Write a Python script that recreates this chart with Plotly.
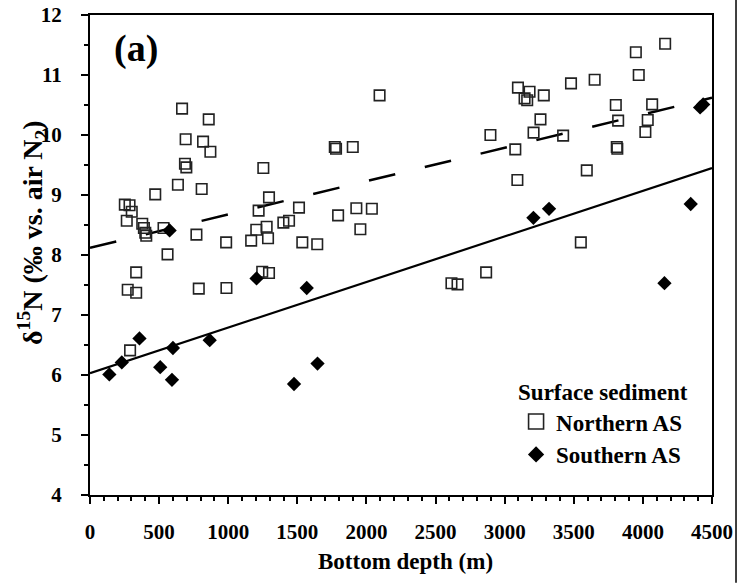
import plotly.graph_objects as go

# Northern AS (open squares)
north_depth = [666, 859, 692, 818, 871, 687, 697, 1254, 636, 472, 808, 1295, 252, 286, 302,
               1220, 1399, 1440, 266, 378, 390, 400, 407, 532, 770, 1203, 1278, 1288, 1166,
               985, 561, 334, 273, 334, 787, 987, 1246, 1295, 290,
               1512, 1536, 1644, 1771, 1780, 1795, 1901, 1927, 2039, 1956, 2095, 2615, 2659,
               2866, 2897, 3077, 3092, 3096, 3180, 3144, 3163, 3283, 3259, 3209,
               4161, 3949, 3970, 3480, 3651, 3804, 4067, 3821, 3423, 4035, 4018, 3811, 3815,
               3594, 3551]
north_d15n = [10.44, 10.26, 9.93, 9.89, 9.72, 9.52, 9.46, 9.45, 9.17, 9.01, 9.10, 8.96, 8.84,
              8.83, 8.72, 8.74, 8.54, 8.57, 8.57, 8.52, 8.45, 8.37, 8.32, 8.45, 8.34, 8.42,
              8.47, 8.28, 8.24, 8.21, 8.01, 7.71, 7.42, 7.37, 7.44, 7.45, 7.72, 7.70, 6.41,
              8.79, 8.21, 8.18, 9.80, 9.77, 8.66, 9.80, 8.78, 8.77, 8.43, 10.66, 7.53, 7.51,
              7.71, 10.00, 9.76, 9.25, 10.79, 10.72, 10.61, 10.58, 10.66, 10.26, 10.04,
              11.52, 11.38, 11.00, 10.86, 10.92, 10.50, 10.51, 10.24, 9.99, 10.25, 10.05,
              9.80, 9.77, 9.41, 8.21]

# Southern AS (filled diamonds)
south_depth = [140, 230, 358, 508, 576, 593, 600, 866, 1205, 1476, 1568, 1646, 3208, 3321,
               4156, 4346, 4414, 4436]
south_d15n = [6.01, 6.21, 6.61, 6.13, 8.41, 5.92, 6.45, 6.58, 7.61, 5.85, 7.45, 6.19, 8.62,
              8.77, 7.53, 8.85, 10.46, 10.51]

# Regression lines (end values)
fit_depth = [0, 4500]
north_fit = [8.12, 10.62]
south_fit = [6.03, 9.45]

x_ticks = [0, 500, 1000, 1500, 2000, 2500, 3000, 3500, 4000, 4500]
y_ticks = [4, 5, 6, 7, 8, 9, 10, 11, 12]

FONT = "Liberation Serif"

fig = go.Figure()

fig.add_trace(go.Scatter(x=fit_depth, y=north_fit, mode="lines",
                         line=dict(color="black", width=2.5, dash="27px,30.4px"),
                         showlegend=False, hoverinfo="skip"))
fig.add_trace(go.Scatter(x=fit_depth, y=south_fit, mode="lines",
                         line=dict(color="black", width=2.2),
                         showlegend=False, hoverinfo="skip"))

fig.add_trace(go.Scatter(x=north_depth, y=north_d15n, mode="markers",
                         marker=dict(symbol="square-open", size=10.5, color="#222",
                                     line=dict(width=1.6, color="#222")),
                         showlegend=False))
fig.add_trace(go.Scatter(x=south_depth, y=south_d15n, mode="markers",
                         marker=dict(symbol="diamond", size=11, color="black",
                                     line=dict(width=0)),
                         showlegend=False))

# legend-only entries (larger symbols in legend)
fig.add_trace(go.Scatter(x=[None], y=[None], mode="markers", name="Northern AS",
                         marker=dict(symbol="square-open", size=15, color="#222",
                                     line=dict(width=1.6, color="#222"))))
fig.add_trace(go.Scatter(x=[None], y=[None], mode="markers", name="Southern AS",
                         marker=dict(symbol="diamond", size=12.5, color="black")))

axis_common = dict(showgrid=False, zeroline=False, showline=True, linewidth=2,
                   linecolor="black", mirror=True, ticks="outside", ticklen=7,
                   tickwidth=2, tickcolor="black",
                   tickfont=dict(family=FONT, size=21, color="black", weight="bold"))

fig.update_xaxes(range=[0, 4500], tickvals=x_ticks, ticktext=[str(v) for v in x_ticks],
                 minor=dict(dtick=100, ticklen=4, ticks="outside", tickwidth=1.5,
                            tickcolor="black", showgrid=False),
                 ticklabelstandoff=10,
                 **axis_common)
fig.update_yaxes(range=[4, 12], tickvals=y_ticks, ticktext=[str(v) for v in y_ticks],
                 minor=dict(dtick=0.5, ticklen=4, ticks="outside", tickwidth=1.5,
                            tickcolor="black", showgrid=False),
                 ticklabelstandoff=15,
                 **axis_common)

fig.add_annotation(text="Bottom depth (m)", xref="paper", yref="paper", x=0.508, y=-0.1375,
                   xanchor="center", yanchor="middle", showarrow=False,
                   font=dict(family=FONT, size=23, color="black", weight="bold"))
fig.add_annotation(text="δ<sup>15</sup>N (‰ vs. air N<sub>2</sub>)", xref="paper", yref="paper",
                   x=-0.0916, y=0.546, xanchor="center", yanchor="middle", textangle=-90,
                   showarrow=False,
                   font=dict(family=FONT, size=28, color="black", weight="bold"))
fig.add_annotation(text="(a)", xref="paper", yref="paper", x=0.035, y=0.931,
                   xanchor="left", yanchor="middle", showarrow=False,
                   font=dict(family=FONT, size=38, color="black", weight="bold"))

fig.add_shape(type="line", xref="paper", yref="paper", x0=1.0386, x1=1.0386,
              y0=-0.183, y1=1.031, line=dict(color="black", width=1.5))

fig.update_layout(
    width=738, height=583,
    margin=dict(l=90, r=26, t=15, b=88, autoexpand=False),
    paper_bgcolor="white", plot_bgcolor="white",
    legend=dict(x=0.685, y=0.26, xanchor="left", yanchor="top",
                bgcolor="rgba(0,0,0,0)",
                title=dict(text="Surface sediment",
                           font=dict(family=FONT, size=23, color="black", weight="bold")),
                font=dict(family=FONT, size=23, color="black", weight="bold")),
)

fig.write_html("out.html", config={"displayModeBar": False},
               post_script="document.body.style.margin='0px';"
                           "document.body.style.overflow='hidden';")
